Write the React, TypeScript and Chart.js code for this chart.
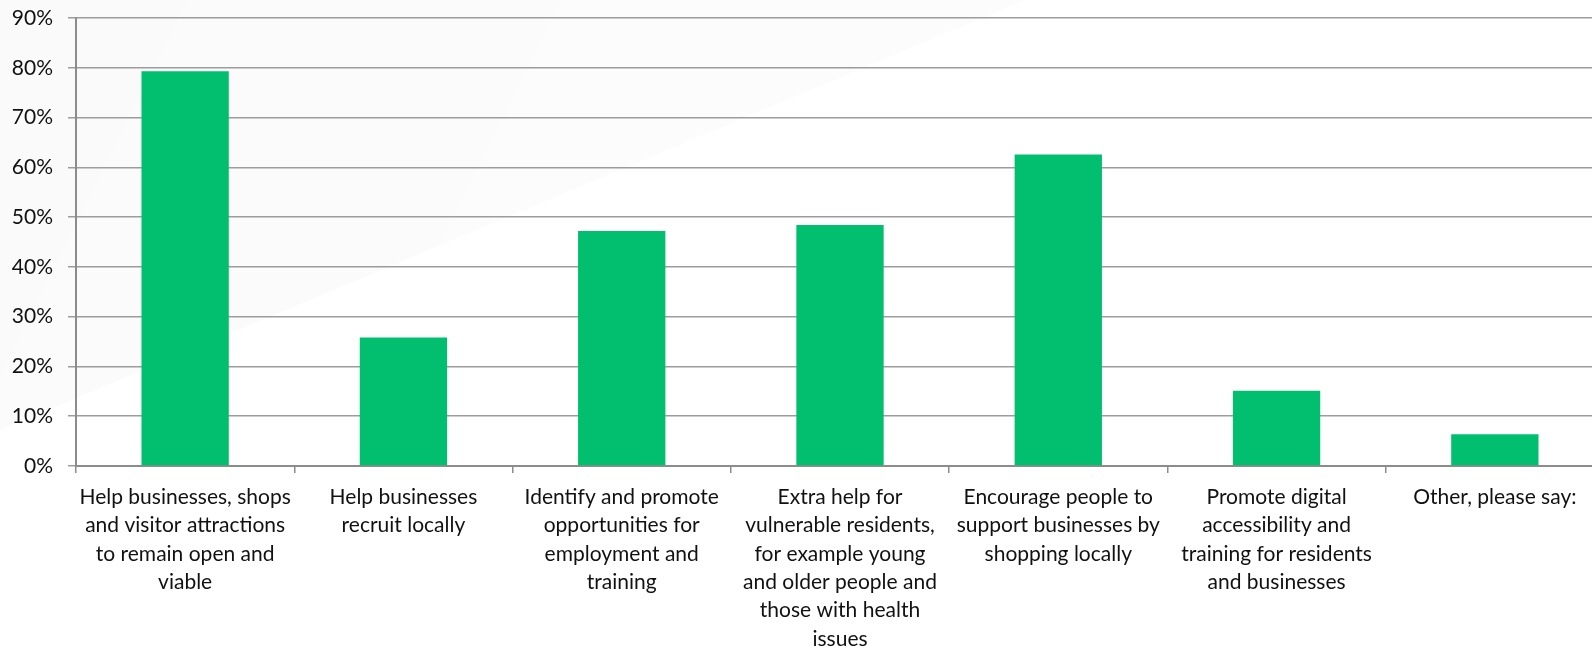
import React, { useEffect, useRef } from "react";
import { Chart, registerables } from "chart.js";

Chart.register(...registerables);

const categories: string[][] = [
  ["Help businesses, shops", "and visitor attractions", "to remain open and", "viable"],
  ["Help businesses", "recruit locally"],
  ["Identify and promote", "opportunities for", "employment and", "training"],
  ["Extra help for", "vulnerable residents,", "for example young", "and older people and", "those with health", "issues"],
  ["Encourage people to", "support businesses by", "shopping locally"],
  ["Promote digital", "accessibility and", "training for residents", "and businesses"],
  ["Other, please say:"],
];

const values: number[] = [79.3, 25.8, 47.2, 48.4, 62.6, 15.1, 6.4];

const yTicks: number[] = [0, 10, 20, 30, 40, 50, 60, 70, 80, 90];

const FONT = "Lato, 'Open Sans', sans-serif";

const bgPlugin = {
  id: "bgShade",
  beforeDraw(chart: any) {
    const { ctx } = chart;
    ctx.save();
    const g = ctx.createLinearGradient(0, 0, 600, 300);
    g.addColorStop(0, "rgba(0,0,0,0.02)");
    g.addColorStop(1, "rgba(0,0,0,0.01)");
    ctx.fillStyle = g;
    ctx.beginPath();
    ctx.moveTo(0, 0);
    ctx.lineTo(1025, 0);
    ctx.lineTo(0, 430);
    ctx.closePath();
    ctx.fill();
    ctx.restore();
  },
};

export default function App() {
  const ref = useRef<HTMLCanvasElement | null>(null);

  useEffect(() => {
    if (!ref.current) return;
    const chart = new Chart(ref.current, {
      type: "bar",
      data: {
        labels: categories,
        datasets: [
          {
            data: values,
            backgroundColor: "#02bf6f",
            borderWidth: 0,
            categoryPercentage: 0.8,
            barPercentage: 0.5,
          },
        ],
      },
      plugins: [bgPlugin],
      options: {
        responsive: false,
        animation: false,
        layout: { padding: { top: 18, left: 0, right: 0, bottom: 0 } },
        plugins: {
          legend: { display: false },
          tooltip: { enabled: false },
        },
        scales: {
          x: {
            offset: true,
            grid: {
              offset: true,
              drawOnChartArea: false,
              drawTicks: true,
              tickLength: 7,
              color: "#8c8c8c",
              lineWidth: 1.5,
            },
            border: { color: "#8c8c8c", width: 2 },
            ticks: {
              color: "#111",
              font: { family: FONT, size: 21, lineHeight: 1.35 },
              padding: 10,
              maxRotation: 0,
              minRotation: 0,
              autoSkip: false,
            },
            afterFit(scale: any) {
              scale.height = 183;
              scale.paddingLeft = 0;
              scale.paddingRight = 0;
            },
          },
          y: {
            min: 0,
            max: 90,
            afterBuildTicks(scale: any) {
              scale.ticks = yTicks.map((v) => ({ value: v }));
            },
            grid: {
              color: "#9c9c9c",
              lineWidth: 1.5,
              tickLength: 8,
            },
            border: { color: "#8c8c8c", width: 2 },
            ticks: {
              color: "#111",
              font: { family: FONT, size: 21 },
              padding: 15,
              callback: (v: any) => v + "%",
            },
            afterFit(scale: any) {
              scale.width = 76;
              scale.paddingTop = 0;
              scale.paddingBottom = 0;
            },
          },
        },
      },
    });
    return () => chart.destroy();
  }, []);

  return (
    <div
      style={{
        position: "fixed",
        left: 0,
        top: 0,
        width: 1592,
        height: 649,
        overflow: "hidden",
        background: "#fff",
      }}
    >
      <canvas ref={ref} width={1604} height={649} style={{ display: "block" }} />
    </div>
  );
}
